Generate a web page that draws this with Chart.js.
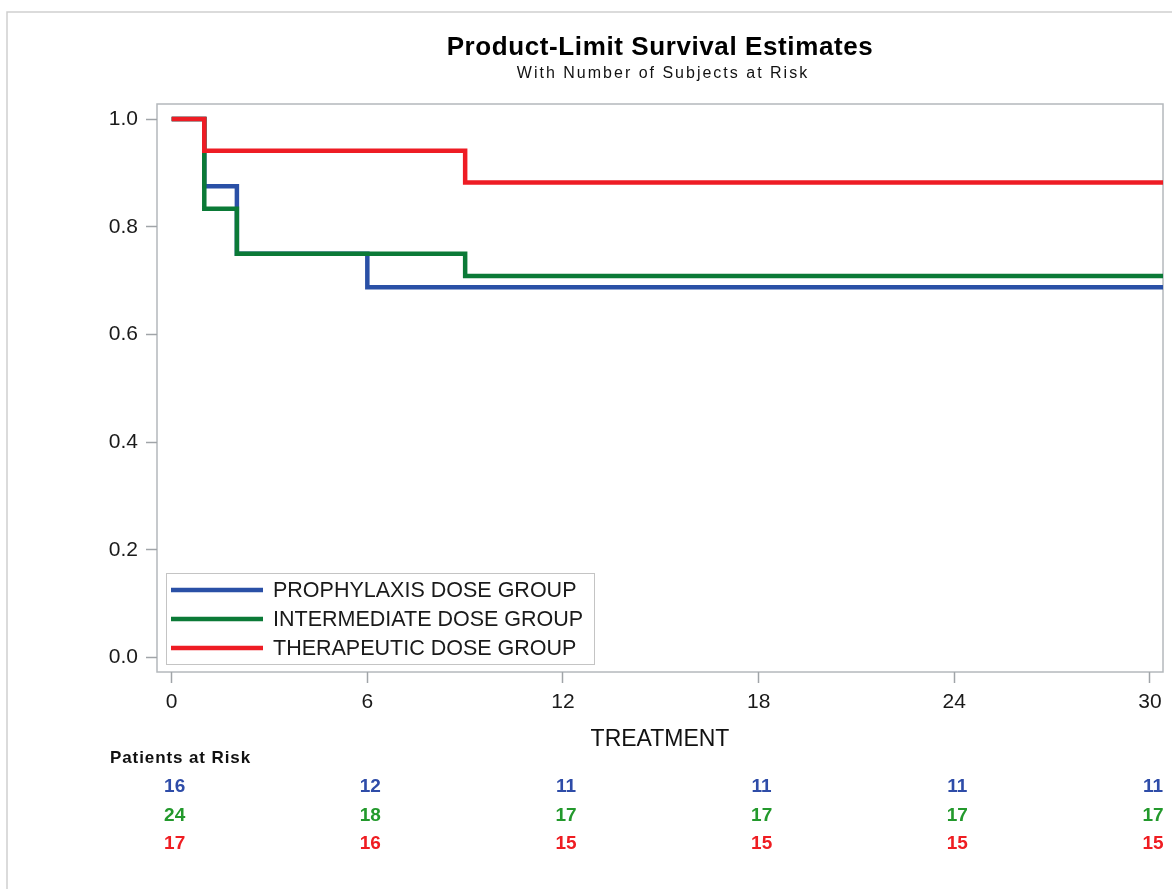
<!DOCTYPE html>
<html>
<head>
<meta charset="utf-8">
<title>Product-Limit Survival Estimates</title>
<script src="https://cdn.jsdelivr.net/npm/chart.js@4"></script>
<style>
  html, body { margin: 0; padding: 0; background: #fff; }
  #wrap { position: relative; width: 1172px; height: 889px; }
</style>
</head>
<body>
<div id="wrap"><canvas id="km" width="1172" height="889"></canvas></div>
<script>
// survival curves (time, estimate)
const prophylaxisTimes = [0, 1, 2, 6, 31];
const prophylaxisSurvival = [1.0, 0.875, 0.75, 0.6875, 0.6875];
const intermediateTimes = [0, 1, 2, 9, 31];
const intermediateSurvival = [1.0, 0.8333, 0.75, 0.7083, 0.7083];
const therapeuticTimes = [0, 1, 9, 31];
const therapeuticSurvival = [1.0, 0.9412, 0.8824, 0.8824];

const groupNames = ['PROPHYLAXIS DOSE GROUP', 'INTERMEDIATE DOSE GROUP', 'THERAPEUTIC DOSE GROUP'];

// patients at risk table
const riskTimes = [0, 6, 12, 18, 24, 30];
const prophylaxisAtRisk = [16, 12, 11, 11, 11, 11];
const intermediateAtRisk = [24, 18, 17, 17, 17, 17];
const therapeuticAtRisk = [17, 16, 15, 15, 15, 15];

const xTicks = [0, 6, 12, 18, 24, 30];
const yTicks = [0.0, 0.2, 0.4, 0.6, 0.8, 1.0];

const lineColors = ['#2a50a6', '#0b7a37', '#ee1c24'];
const tableColors = ['#2e4ca8', '#23992c', '#ef1d22'];
const FONT = '"Liberation Sans", Arial, sans-serif';

const toPoints = (xs, ys) => xs.map((x, i) => ({ x: x, y: ys[i] }));

const framePlugin = {
  id: 'frame',
  beforeDraw(chart) {
    const ctx = chart.ctx;
    ctx.save();
    ctx.strokeStyle = '#cfcfcf';
    ctx.lineWidth = 1.5;
    ctx.beginPath();
    ctx.moveTo(7, chart.height);
    ctx.lineTo(7, 12);
    ctx.lineTo(chart.width, 12);
    ctx.stroke();
    const a = chart.chartArea;
    ctx.strokeStyle = '#b4b8bc';
    ctx.strokeRect(a.left, a.top, a.right - a.left, a.bottom - a.top);

    // titles, centred over the plot area
    const cx = (a.left + a.right) / 2;
    ctx.textAlign = 'center';
    ctx.textBaseline = 'middle';
    ctx.fillStyle = '#000';
    ctx.font = 'bold 26px ' + FONT;
    ctx.letterSpacing = '0.6px';
    ctx.fillText('Product-Limit Survival Estimates', cx, 48);
    ctx.fillStyle = '#111';
    ctx.font = '16px ' + FONT;
    ctx.letterSpacing = '2px';
    ctx.fillText('With Number of Subjects at Risk', cx + 3, 74);
    ctx.restore();
  }
};

const legendPlugin = {
  id: 'insideLegend',
  afterDatasetsDraw(chart) {
    const ctx = chart.ctx;
    const a = chart.chartArea;
    const left = a.left + 9, top = a.bottom - 99, w = 428, h = 91;
    ctx.save();
    ctx.fillStyle = '#fff';
    ctx.fillRect(left, top, w, h);
    ctx.strokeStyle = '#c4c4c4';
    ctx.lineWidth = 1;
    ctx.strokeRect(left + 0.5, top + 0.5, w, h);
    ctx.font = '21.5px ' + FONT;
    ctx.textBaseline = 'middle';
    groupNames.forEach((name, i) => {
      const y = top + 17 + i * 29;
      ctx.strokeStyle = lineColors[i];
      ctx.lineWidth = 4.5;
      ctx.beginPath();
      ctx.moveTo(left + 5, y);
      ctx.lineTo(left + 97, y);
      ctx.stroke();
      ctx.fillStyle = '#1a1a1a';
      ctx.fillText(name, left + 107, y + 1);
    });
    ctx.restore();
  }
};

const riskPlugin = {
  id: 'riskTable',
  afterDraw(chart) {
    const ctx = chart.ctx;
    const x = chart.scales.x;
    ctx.save();
    ctx.textBaseline = 'middle';
    ctx.fillStyle = '#111';
    ctx.font = 'bold 17px ' + FONT;
    ctx.letterSpacing = '0.9px';
    ctx.textAlign = 'left';
    ctx.fillText('Patients at Risk', 110, 758);
    ctx.letterSpacing = '0px';
    ctx.font = 'bold 19px ' + FONT;
    ctx.textAlign = 'center';
    [prophylaxisAtRisk, intermediateAtRisk, therapeuticAtRisk].forEach((row, r) => {
      ctx.fillStyle = tableColors[r];
      row.forEach((n, i) => {
        ctx.fillText(String(n), x.getPixelForValue(riskTimes[i]) + 3, 787 + r * 28.5);
      });
    });
    ctx.restore();
  }
};

new Chart(document.getElementById('km'), {
  type: 'line',
  data: {
    datasets: [
      { label: groupNames[0], data: toPoints(prophylaxisTimes, prophylaxisSurvival), borderColor: lineColors[0], order: 2 },
      { label: groupNames[1], data: toPoints(intermediateTimes, intermediateSurvival), borderColor: lineColors[1], order: 1 },
      { label: groupNames[2], data: toPoints(therapeuticTimes, therapeuticSurvival), borderColor: lineColors[2], order: 0 },
    ],
  },
  options: {
    responsive: false,
    animation: false,
    events: [],
    layout: { padding: { left: 0, right: 9, top: 104, bottom: 0 } },
    elements: {
      line: { stepped: true, borderWidth: 4.5, fill: false, borderCapStyle: 'butt', borderJoinStyle: 'miter' },
      point: { radius: 0 },
    },
    plugins: {
      legend: { display: false },
      tooltip: { enabled: false },
      title: { display: false },
    },
    scales: {
      x: {
        type: 'linear',
        min: -0.45,
        max: 30.4,
        afterBuildTicks: s => { s.ticks = xTicks.map(v => ({ value: v })); },
        afterFit: s => { s.height = 217; },
        grid: { drawOnChartArea: false, tickLength: 11, tickColor: '#a0a4a8', tickWidth: 1.5 },
        border: { display: false },
        ticks: { color: '#1a1a1a', font: { family: FONT, size: 21 }, padding: 7, maxRotation: 0 },
        title: {
          display: true,
          text: 'TREATMENT',
          color: '#111',
          font: { family: FONT, size: 23 },
          padding: { top: 0, bottom: 136 },
        },
      },
      y: {
        min: -0.027,
        max: 1.028,
        afterBuildTicks: s => { s.ticks = yTicks.map(v => ({ value: v })); },
        afterFit: s => { s.width = 157; },
        grid: { drawOnChartArea: false, tickLength: 11, tickColor: '#a0a4a8', tickWidth: 1.5 },
        border: { display: false },
        ticks: { color: '#1a1a1a', font: { family: FONT, size: 21 }, padding: 8, callback: v => v.toFixed(1) },
      },
    },
  },
  plugins: [framePlugin, legendPlugin, riskPlugin],
});
</script>
</body>
</html>
